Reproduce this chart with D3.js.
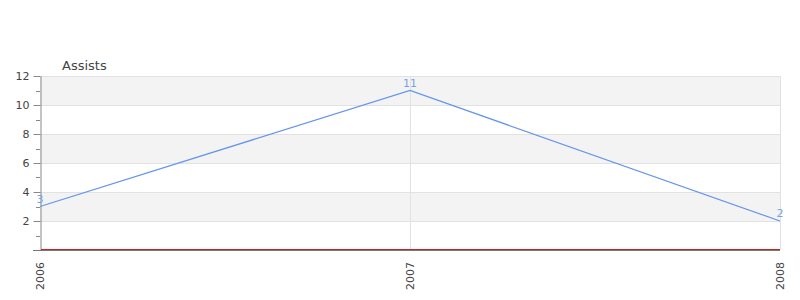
<!DOCTYPE html>
<html><head><meta charset="utf-8">
<script src="https://cdn.jsdelivr.net/npm/d3@7"></script>
<style>body{margin:0;background:#fff}svg{display:block;font-family:"DejaVu Sans",sans-serif}</style>
</head><body><svg width="800" height="300"></svg>
<script>
const categories = ["2006", "2007", "2008"];
const assists = [3, 11, 2];
const yTicks = [2, 4, 6, 8, 10, 12];
const seriesName = "Assists";

const svg = d3.select("svg");
const m = {l: 40, r: 780, t: 76, b: 250};
const x = d3.scalePoint().domain(categories).range([m.l, m.r]);
const y = d3.scaleLinear().domain([0, 12]).range([m.b, m.t]);

// bands
const bands = [];
for (let v = 0; v < 12; v += 2) bands.push(v);
svg.selectAll("rect.band").data(bands).enter().append("rect")
  .attr("x", m.l).attr("width", m.r - m.l)
  .attr("y", d => y(d + 2)).attr("height", d => y(d) - y(d + 2))
  .attr("fill", d => (d / 2) % 2 === 1 ? "#f3f3f3" : "#ffffff");

// horizontal gridlines
svg.selectAll("line.hg").data(yTicks).enter().append("line")
  .attr("x1", m.l).attr("x2", m.r)
  .attr("y1", d => y(d) + 0.5).attr("y2", d => y(d) + 0.5)
  .attr("stroke", "#e2e2e2");
// vertical gridlines
svg.selectAll("line.vg").data(categories.slice(1)).enter().append("line")
  .attr("x1", d => x(d) + 0.5).attr("x2", d => x(d) + 0.5)
  .attr("y1", m.t).attr("y2", m.b)
  .attr("stroke", "#e2e2e2");

// y axis
const ya = svg.append("g").attr("transform", `translate(${m.l + 0.5},0)`)
  .call(d3.axisLeft(y).tickValues(yTicks).tickSize(7).tickSizeOuter(0).tickPadding(4));
ya.select(".domain").attr("stroke", "#888");
ya.selectAll(".tick line").attr("stroke", "#888");
ya.selectAll("text").attr("fill", "#444").attr("font-size", 11).attr("font-family", "DejaVu Sans");
// minor ticks
svg.selectAll("line.minor").data([1, 3, 5, 7, 9, 11]).enter().append("line")
  .attr("x1", m.l - 4).attr("x2", m.l)
  .attr("y1", d => Math.round(y(d)) + 0.5).attr("y2", d => Math.round(y(d)) + 0.5)
  .attr("stroke", "#888");

// bottom axis line
svg.append("line").attr("x1", m.l - 7).attr("x2", m.r).attr("y1", m.b + 0.5).attr("y2", m.b + 0.5).attr("stroke", "#777");
svg.append("line").attr("x1", m.l + 1).attr("x2", m.r).attr("y1", m.b - 0.5).attr("y2", m.b - 0.5).attr("stroke", "#cc2222");

// x labels
svg.selectAll("text.xl").data(categories).enter().append("text")
  .attr("transform", d => `translate(${x(d) + 4},${m.b + 12}) rotate(-90)`)
  .attr("text-anchor", "end").attr("font-size", 11).attr("fill", "#444")
  .text(d => d);

// line
const pts = categories.map((c, i) => [x(c), y(assists[i])]);
svg.append("path").attr("d", d3.line()(pts)).attr("fill", "none")
  .attr("stroke", "#6495ed").attr("stroke-width", 1.3);

// value labels
svg.selectAll("text.vl").data(categories).enter().append("text")
  .attr("x", d => x(d)).attr("y", (d, i) => y(assists[i]) - 4)
  .attr("text-anchor", "middle").attr("font-size", 11).attr("fill", "#7b9fe6")
  .text((d, i) => assists[i]);

// title
svg.append("text").attr("x", 62).attr("y", 70).attr("font-size", 13).attr("fill", "#444").text(seriesName);
</script></body></html>
